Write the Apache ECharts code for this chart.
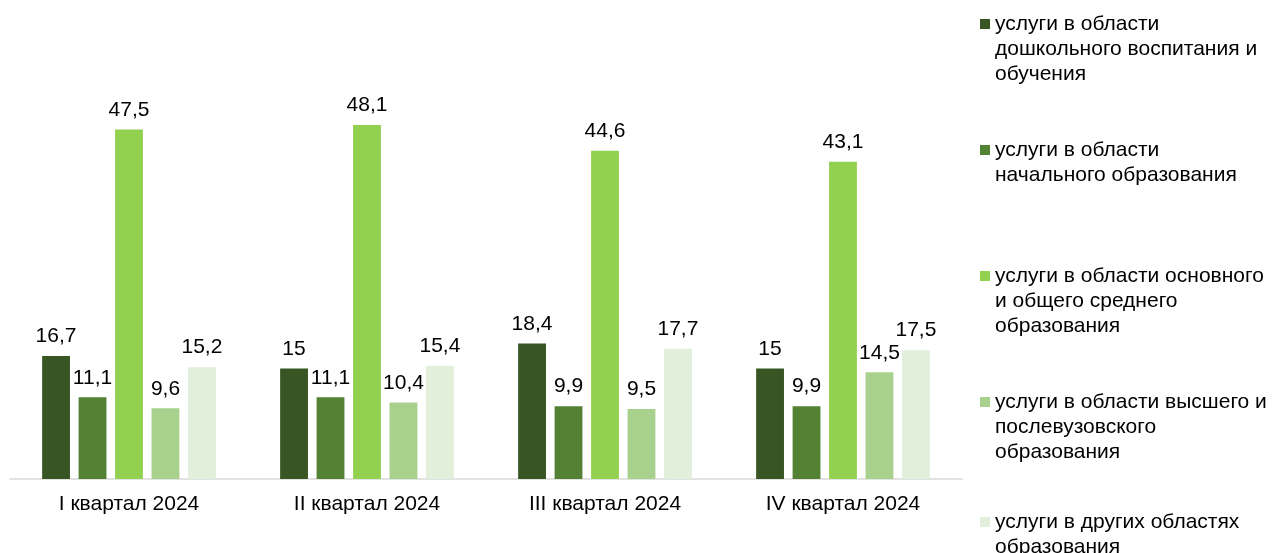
<!DOCTYPE html>
<html>
<head>
<meta charset="utf-8">
<script src="https://cdn.jsdelivr.net/npm/echarts@6/dist/echarts.min.js"></script>
<style>
html,body{margin:0;padding:0;background:#fff;}
#chart{width:1274px;height:553px;}
</style>
</head>
<body>
<div id="chart"></div>
<script>
const categories = ['I квартал 2024', 'II квартал 2024', 'III квартал 2024', 'IV квартал 2024'];
const seriesNames = [
  'услуги в области дошкольного воспитания и обучения',
  'услуги в области начального образования',
  'услуги в области основного и общего среднего образования',
  'услуги в области высшего и послевузовского образования',
  'услуги в других областях образования'
];
const legendLabels = [
  'услуги в области\nдошкольного воспитания и\nобучения',
  'услуги в области\nначального образования',
  'услуги в области основного\nи общего среднего\nобразования',
  'услуги в области высшего и\nпослевузовского\nобразования',
  'услуги в других областях\nобразования'
];
const preschool = [16.7, 15, 18.4, 15];
const primary = [11.1, 11.1, 9.9, 9.9];
const secondary = [47.5, 48.1, 44.6, 43.1];
const higher = [9.6, 10.4, 9.5, 14.5];
const other = [15.2, 15.4, 17.7, 17.5];
const seriesValues = [preschool, primary, secondary, higher, other];

const colors = ['#375623', '#548235', '#92D050', '#A9D18E', '#E2EFDA'];
const font = 'Liberation Sans, Arial, sans-serif';
const FS = 21;
const LH = 25;
const firstLineY = [24, 150, 276, 402, 522];

const chart = echarts.init(document.getElementById('chart'));

const legends = seriesNames.map((name, i) => {
  const lines = legendLabels[i].split('\n').length;
  const lead = '\n'.repeat(lines - 1);
  const total = (2 * lines - 1) * LH;
  return {
    data: [name],
    orient: 'vertical',
    left: 980,
    top: firstLineY[i] - total / 2,
    padding: 0,
    itemWidth: 10,
    itemHeight: 10,
    icon: 'rect',
    selectedMode: false,
    formatter: () => lead + legendLabels[i],
    textStyle: {
      fontFamily: font,
      fontSize: FS,
      color: '#000',
      lineHeight: LH
    }
  };
});

chart.setOption({
  animation: false,
  color: colors,
  grid: { left: 10, right: 312, top: 111, bottom: 74, containLabel: false },
  legend: legends,
  xAxis: {
    type: 'category',
    data: categories,
    axisLine: { show: true, lineStyle: { color: '#D9D9D9', width: 1.5 } },
    axisTick: { show: false },
    axisLabel: { fontFamily: font, fontSize: FS, color: '#000', margin: 15 }
  },
  yAxis: {
    type: 'value',
    min: 0,
    max: 50,
    show: false,
    splitLine: { show: false }
  },
  series: seriesNames.map((name, i) => ({
    name: name,
    type: 'bar',
    data: seriesValues[i],
    barGap: '31%',
    barCategoryGap: '27%',
    itemStyle: { color: colors[i] },
    label: {
      show: true,
      position: 'top',
      distance: 9,
      fontFamily: font,
      fontSize: FS,
      color: '#000',
      formatter: p => String(p.value).replace('.', ',')
    }
  }))
});
</script>
</body>
</html>
